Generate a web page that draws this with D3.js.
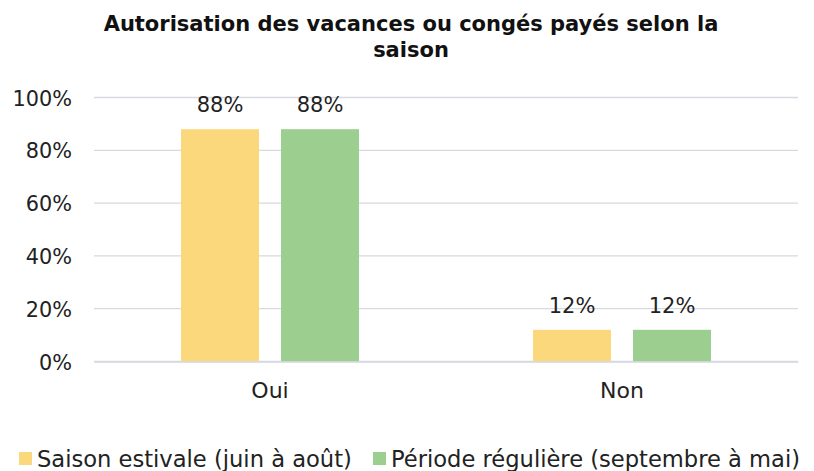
<!DOCTYPE html>
<html><head><meta charset="utf-8">
<script src="https://cdn.jsdelivr.net/npm/d3@7"></script>
<style>body{margin:0;background:#fff}svg text{font-family:"DejaVu Sans",sans-serif;fill:#222}</style>
</head><body><svg id="c" width="814" height="471"></svg>
<script>
const categories = ["Oui", "Non"];
const seriesNames = ["Saison estivale (juin à août)", "Période régulière (septembre à mai)"];
const estivale = [0.88, 0.12];
const reguliere = [0.88, 0.12];
const yTicks = [0, 0.2, 0.4, 0.6, 0.8, 1.0];
const colors = ["#FCD87C", "#9BCE8F"];
const title = ["Autorisation des vacances ou congés payés selon la", "saison"];

const svg = d3.select("#c");
const m = {left: 94, right: 16, top: 97.5, bottom: 109.5};
const W = 814, H = 471;
const x0 = d3.scaleBand().domain(categories).range([m.left, W - m.right]).paddingInner(0).paddingOuter(0);
const x1 = d3.scaleBand().domain(seriesNames).range([87, 87 + 178]).paddingInner(22/100);
const y = d3.scaleLinear().domain([0, 1]).range([H - m.bottom, m.top]);

// gridlines
svg.append("g").selectAll("line").data(yTicks).join("line")
  .attr("x1", m.left).attr("x2", W - m.right)
  .attr("y1", d => y(d)).attr("y2", d => y(d))
  .attr("stroke", "#D6D9E0").attr("stroke-width", 1.3);

// y axis labels
const yAxis = d3.axisLeft(y).tickValues(yTicks).tickFormat(d3.format(".0%")).tickSize(0).tickPadding(22);
const ya = svg.append("g").attr("transform", `translate(${m.left},0)`).call(yAxis);
ya.select(".domain").remove();
ya.selectAll("text").style("font-size", "20.8px").attr("fill", "#222").attr("dy", "0.36em");

const series = [estivale, reguliere];
const groups = svg.append("g").selectAll("g").data(categories).join("g")
  .attr("transform", d => `translate(${x0(d)},0)`);
groups.each(function(cat, ci) {
  const g = d3.select(this);
  seriesNames.forEach((s, si) => {
    const v = series[si][ci];
    g.append("rect").attr("x", x1(s)).attr("width", x1.bandwidth())
      .attr("y", y(v)).attr("height", y(0) - y(v)).attr("fill", colors[si]);
    g.append("text").attr("x", x1(s) + x1.bandwidth()/2).attr("y", y(v) - 17)
      .attr("text-anchor", "middle").style("font-size", "21px").text(d3.format(".0%")(v));
  });
});

// x axis labels
const xAxis = d3.axisBottom(x0).tickSize(0).tickPadding(21);
const xa = svg.append("g").attr("transform", `translate(0,${y(0)})`).call(xAxis);
xa.select(".domain").attr("stroke", "#D6D9E0").attr("stroke-width", 1.3);
xa.selectAll("text").style("font-size", "22px").attr("fill", "#222");

// title
svg.append("text").attr("x", 411).attr("y", 31).attr("text-anchor", "middle")
  .style("font-size", "21px").style("font-weight", "bold").style("fill", "#111")
  .selectAll("tspan").data(title).join("tspan")
  .attr("x", 411).attr("dy", (d, i) => i ? 26 : 0).text(d => d);

// legend
const legX = [19, 373];
const leg = svg.append("g").selectAll("g").data(seriesNames).join("g")
  .attr("transform", (d, i) => `translate(${legX[i]},0)`);
leg.append("rect").attr("x", 0).attr("y", 452).attr("width", 13).attr("height", 13).attr("fill", (d, i) => colors[i]);
leg.append("text").attr("x", 18).attr("y", 466.5).style("font-size", "22.6px").text(d => d);
</script></body></html>
